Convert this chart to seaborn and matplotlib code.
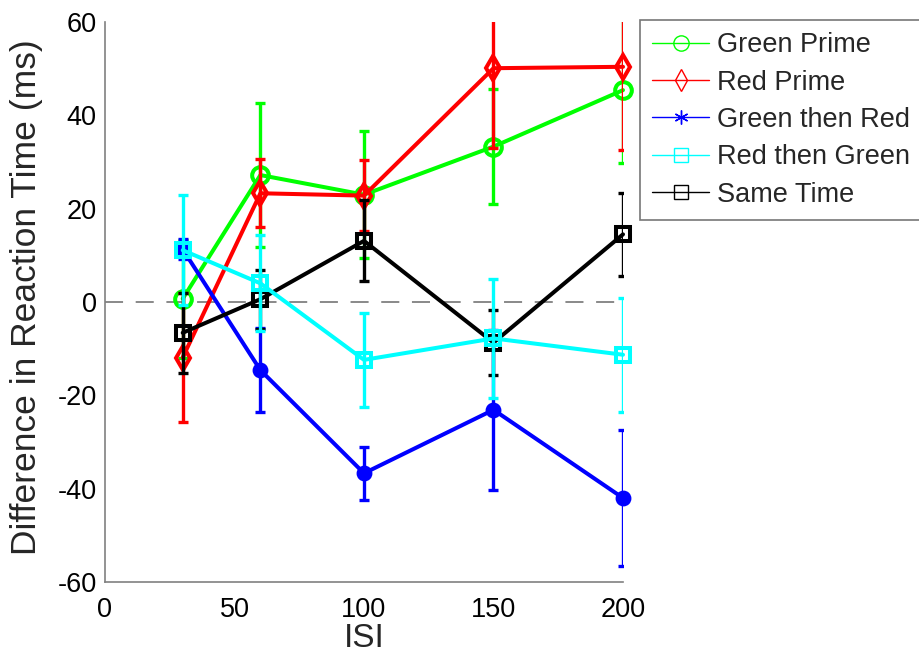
import numpy as np
import pandas as pd
import matplotlib
matplotlib.use("Agg")
import matplotlib.pyplot as plt
from matplotlib.lines import Line2D
import seaborn as sns

# ISI conditions (ms)
isi = [30, 60, 100, 150, 200]

# Mean RT differences and their error bars per condition
green_prime = [0.7, 27.2, 23.0, 33.3, 45.4]
green_prime_err = [12.6, 15.4, 13.6, 12.4, 15.6]

red_prime = [-11.9, 23.3, 22.8, 50.1, 50.4]
red_prime_err = [13.9, 7.3, 7.6, 17.2, 17.8]

green_then_red = [11.3, -14.6, -36.7, -23.1, -42.0]
green_then_red_err = [2.1, 9.0, 5.7, 17.2, 14.5]

red_then_green = [11.1, 4.0, -12.4, -7.8, -11.3]
red_then_green_err = [11.8, 10.3, 10.0, 12.7, 12.2]

same_time = [-6.6, 0.6, 13.1, -8.7, 14.5]
same_time_err = [8.6, 6.3, 8.7, 7.0, 8.9]

labels = ["Green Prime", "Red Prime", "Green then Red", "Red then Green", "Same Time"]
x_ticks = [0, 50, 100, 150, 200]
y_ticks = [-60, -40, -20, 0, 20, 40, 60]

sns.set_style("white")
plt.rcParams["font.family"] = ["Liberation Sans", "DejaVu Sans"]

series = [
    # label, means, errors, colour, plot marker, legend marker, marker size, zorder
    (labels[0], green_prime, green_prime_err, "#00ff00", "o", "o", 12, 3),
    (labels[1], red_prime, red_prime_err, "#ff0000", "d", "d", 12, 4),
    (labels[2], green_then_red, green_then_red_err, "#0000ff", "o", (6, 2, 0), 8.5, 5),
    (labels[3], red_then_green, red_then_green_err, "#00ffff", "s", "s", 9.5, 7),
    (labels[4], same_time, same_time_err, "#000000", "s", "s", 9.5, 6),
]

rows = []
for lab, vals, errs, *_ in series:
    for xv, yv, ev in zip(isi, vals, errs):
        rows.append({"ISI": xv, "diff": yv, "err": ev, "condition": lab})
df = pd.DataFrame(rows)

fig = plt.figure(figsize=(9.2, 6.55), dpi=100)
ax = fig.add_axes([105 / 920, 1 - 582 / 655, (623 - 105) / 920, (582 - 22) / 655])

# zero reference line
ax.plot([0, 200], [0, 0], color="#808080", lw=1.3, dashes=(10, 7), zorder=1)

handles = []
for lab, vals, errs, col, mk, lmk, ms, z in series:
    sub = df[df["condition"] == lab]
    ax.errorbar(sub["ISI"], sub["diff"], yerr=sub["err"], fmt="none",
                ecolor=col, elinewidth=2.4, capsize=3.6, capthick=2.4, zorder=z)
    filled = lab == "Green then Red"
    sns.lineplot(data=sub, x="ISI", y="diff", ax=ax, color=col, lw=2.9,
                 marker=mk, markersize=ms, markeredgewidth=2.9,
                 markeredgecolor=col,
                 markerfacecolor=col if filled else "none",
                 errorbar=None, legend=False, zorder=z, clip_on=False)
    handles.append(Line2D([], [], color=col, lw=1.0, marker=lmk,
                          markersize=11 if lmk in ("o", "d") else 10,
                          markerfacecolor="none", markeredgecolor=col,
                          markeredgewidth=1.0, label=lab))

ax.set_xlim(0, 200)
ax.set_ylim(-60, 60)
ax.set_xticks(x_ticks)
ax.set_yticks(y_ticks)
ax.set_xticklabels([str(v) for v in x_ticks])
ax.set_yticklabels([str(v) for v in y_ticks])
ax.tick_params(direction="in", length=5, width=1, color="#808080",
               labelsize=19.5, labelcolor="black")
ax.tick_params(axis="x", pad=11)
ax.tick_params(axis="y", pad=6)
ax.set_xlabel("ISI", fontsize=24, labelpad=0)
ax.set_ylabel("Difference in Reaction Time (ms)", fontsize=25.5)
ax.yaxis.set_label_coords(-0.119, 0.508)

for side in ("top", "right"):
    ax.spines[side].set_visible(False)
for side in ("left", "bottom"):
    ax.spines[side].set_color("#808080")
    ax.spines[side].set_linewidth(1.2)

leg = fig.legend(handles=handles, loc="upper left",
                 bbox_to_anchor=(640 / 920, 1 - 20 / 655),
                 fontsize=19.5, frameon=True, fancybox=False,
                 handlelength=2.1, handletextpad=0.28, labelspacing=0.42,
                 borderpad=0.45, borderaxespad=0.0)
leg.get_frame().set_edgecolor("#555555")
leg.get_frame().set_linewidth(1.2)

fig.savefig("out.png", dpi=100)
